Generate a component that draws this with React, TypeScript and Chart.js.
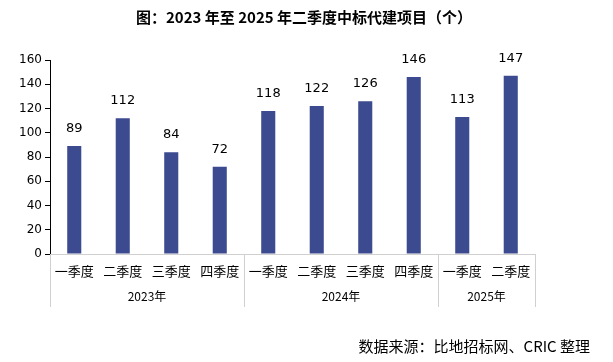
import React, { useEffect, useRef } from "react";
import { Chart, registerables } from "chart.js";

Chart.register(...registerables);

const quarters = ["一季度", "二季度", "三季度", "四季度", "一季度", "二季度", "三季度", "四季度", "一季度", "二季度"];
const values = [89, 112, 84, 72, 118, 122, 126, 146, 113, 147];
const years = ["2023年", "2024年", "2025年"];
const groupSizes = [4, 4, 2];
const yTicks = [0, 20, 40, 60, 80, 100, 120, 140, 160];
const titleText = "图：2023 年至 2025 年二季度中标代建项目（个）";
const sourceText = "数据来源：比地招标网、CRIC 整理";

const CJK = '"Noto Sans CJK SC", "DejaVu Sans", sans-serif';

const overlayPlugin = {
  id: "overlay",
  afterDraw(chart: any) {
    const ctx = chart.ctx;
    const xs = chart.scales.x;
    const area = chart.chartArea;
    ctx.save();
    ctx.fillStyle = "#000";
    ctx.font = `bold 15px ${CJK}`;
    ctx.textAlign = "center";
    ctx.textBaseline = "middle";
    ctx.fillText(titleText, 304, 17);
    ctx.font = `13px "DejaVu Sans", sans-serif`;
    ctx.textBaseline = "bottom";
    const meta = chart.getDatasetMeta(0);
    meta.data.forEach((bar: any, i: number) => {
      ctx.fillText(String(values[i]), bar.x, bar.y - 11);
    });
    ctx.strokeStyle = "#d0d0d0";
    ctx.lineWidth = 1;
    const half = (xs.getPixelForValue(1) - xs.getPixelForValue(0)) / 2;
    let start = 0;
    const drawSep = (x: number) => {
      ctx.beginPath();
      ctx.moveTo(Math.round(x) + 0.5, area.bottom);
      ctx.lineTo(Math.round(x) + 0.5, 307);
      ctx.stroke();
    };
    drawSep(xs.getPixelForValue(0) - half);
    ctx.font = `12px ${CJK}`;
    ctx.textBaseline = "middle";
    groupSizes.forEach((n, g) => {
      const end = start + n - 1;
      const left = xs.getPixelForValue(start) - half;
      const right = xs.getPixelForValue(end) + half;
      drawSep(right);
      ctx.fillStyle = "#000";
      ctx.fillText(years[g], (left + right) / 2, 296);
      start += n;
    });
    ctx.font = `15px ${CJK}`;
    ctx.textAlign = "right";
    ctx.fillText(sourceText, 590, 346);
    ctx.restore();
  },
};

export default function App() {
  const ref = useRef<HTMLCanvasElement>(null);
  useEffect(() => {
    const chart = new Chart(ref.current!, {
      type: "bar",
      data: {
        labels: quarters,
        datasets: [
          {
            data: values,
            backgroundColor: "#3C4A8F",
            barPercentage: 0.29,
            categoryPercentage: 1,
          },
        ],
      },
      options: {
        animation: false,
        responsive: false,
        layout: { padding: { top: 60, right: 78, left: 0, bottom: 0 } },
        plugins: { legend: { display: false }, tooltip: { enabled: false } },
        scales: {
          x: {
            grid: { display: false },
            border: { color: "#d0d0d0" },
            ticks: {
              color: "#000",
              font: { size: 13, family: CJK },
              maxRotation: 0,
              autoSkip: false,
              padding: 1,
            },
            afterFit(scale: any) {
              scale.height = 108;
            },
          },
          y: {
            min: 0,
            max: 160,
            afterBuildTicks(scale: any) {
              scale.ticks = yTicks.map((v) => ({ value: v }));
            },
            grid: { drawOnChartArea: false, color: "#000", tickLength: 5 },
            border: { color: "#000" },
            ticks: {
              color: "#000",
              font: { size: 12, family: '"DejaVu Sans", sans-serif' },
              padding: 3,
            },
            afterFit(scale: any) {
              scale.width = 50;
            },
          },
        },
      },
      plugins: [overlayPlugin],
    });
    return () => chart.destroy();
  }, []);
  return (
    <div style={{ position: "absolute", left: 0, top: 0, width: 613, height: 362 }}>
      <canvas ref={ref} width={613} height={362} />
    </div>
  );
}
